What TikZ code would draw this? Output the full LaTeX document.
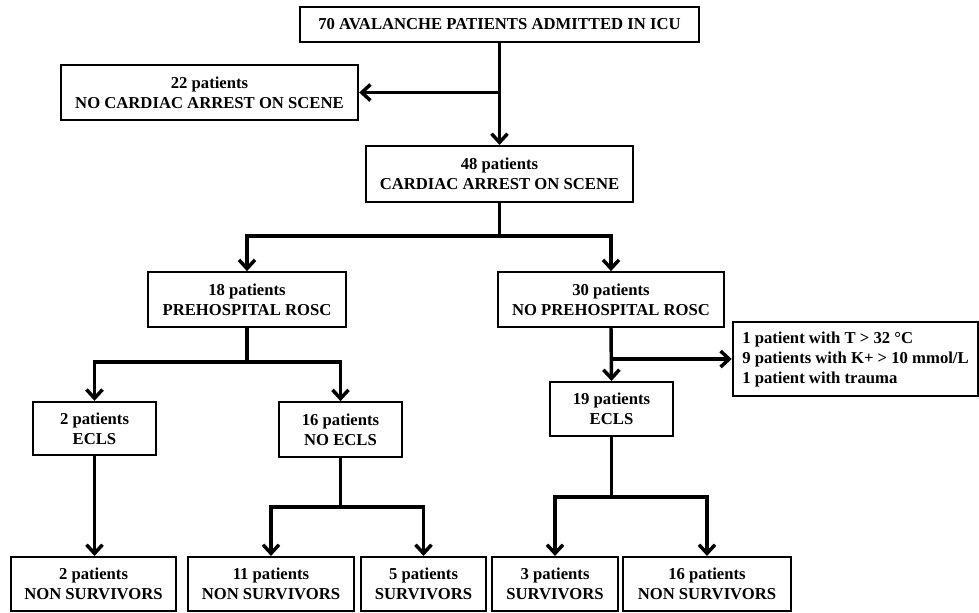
\documentclass[tikz,border=0pt]{standalone}
\usepackage{fontspec}
\setmainfont{Liberation Serif}
\usepackage{tikz}
\usetikzlibrary{arrows.meta}
\tikzset{box/.style={draw=black, line width=1.6pt, inner sep=0pt, align=center, minimum height=41pt, font=\fontsize{12.5}{15}\selectfont\bfseries},
conn/.style={line width=2.6pt},
%open barb head on every arrow
arr/.style={conn, -{Straight Barb[length=6.5pt,width=12pt]}}}

\begin{document}
\begin{tikzpicture}[x=0.75pt,y=-0.75pt]
		\useasboundingbox (0,0) rectangle (979,612);

		\node[box, minimum width=299pt, minimum height=26pt] (admit) at (499.5,24.5) {70 AVALANCHE PATIENTS ADMITTED IN ICU};
		\node[box, minimum width=223pt] (noca) at (209.5,92.5) {22 patients\\NO CARDIAC ARREST ON SCENE};
		\node[box, minimum width=200pt, minimum height=42pt] (ca) at (499.5,174) {48 patients\\CARDIAC ARREST ON SCENE};
		\node[box, minimum width=148.5pt] (rosc) at (247,299.5) {18 patients\\PREHOSPITAL ROSC};
		\node[box, minimum width=169.5pt] (norosc) at (611,299.5) {30 patients\\NO PREHOSPITAL ROSC};
		\node[box, minimum width=92pt, minimum height=40pt] (ecls) at (94.5,428.5) {2 patients\\ECLS};
		\node[box, minimum width=92pt] (noecls) at (340.5,429.5) {16 patients\\NO ECLS};
		\node[box, minimum width=184pt, minimum height=55.5pt, align=left] (excl) at (855.5,359) {1 patient with T > 32 °C\\9 patients with K+ > 10 mmol/L\\1 patient with trauma};
		\node[box, minimum width=92pt, minimum height=40.5pt] (eclsb) at (611.5,409) {19 patients\\ECLS};

		\node[box, minimum width=124pt, minimum height=40.5pt] (dead2) at (93.5,584) {2 patients\\NON SURVIVORS};
		\node[box, minimum width=124.5pt, minimum height=40.5pt] (dead11) at (271,584) {11 patients\\NON SURVIVORS};
		\node[box, minimum width=94pt, minimum height=40.5pt] (alive5) at (423.5,584) {5 patients\\SURVIVORS};
		\node[box, minimum width=94.5pt, minimum height=40.5pt] (alive3) at (555,584) {3 patients\\SURVIVORS};
		\node[box, minimum width=126pt, minimum height=40.5pt] (dead16) at (707,584) {16 patients\\NON SURVIVORS};

		\coordinate (split1) at (admit.south |- noca.east);
		\coordinate (split2) at (499.5,236);
		\coordinate (split3) at (247,362);
		\coordinate (split4) at (norosc.south |- excl.west);
		\coordinate (split5) at (340.5,507);
		\coordinate (split6) at (611.5,497);

		\draw[arr] (admit.south) -- (ca.north);
		\draw[arr] (split1) -- (noca.east);

		\draw[conn] (ca.south) -- (split2);
		\draw[arr] (split2) -| (rosc.north);
		\draw[arr] (split2) -| (norosc.north);

		\draw[conn] (rosc.south) -- (split3);
		\draw[arr] (split3) -| (ecls.north);
		\draw[arr] (split3) -| (noecls.north);

		\draw[arr] (norosc.south) -- (eclsb.north);
		\draw[arr] (split4) -- (excl.west);

		\draw[arr] (ecls.south) -- (ecls.south |- dead2.north);

		\draw[conn] (noecls.south) -- (split5);
		\draw[arr] (split5) -| (dead11.north);
		\draw[arr] (split5) -| (alive5.north);

		\draw[conn] (eclsb.south) -- (split6);
		\draw[arr] (split6) -| (alive3.north);
		\draw[arr] (split6) -| (dead16.north);

	\end{tikzpicture}
\end{document}
